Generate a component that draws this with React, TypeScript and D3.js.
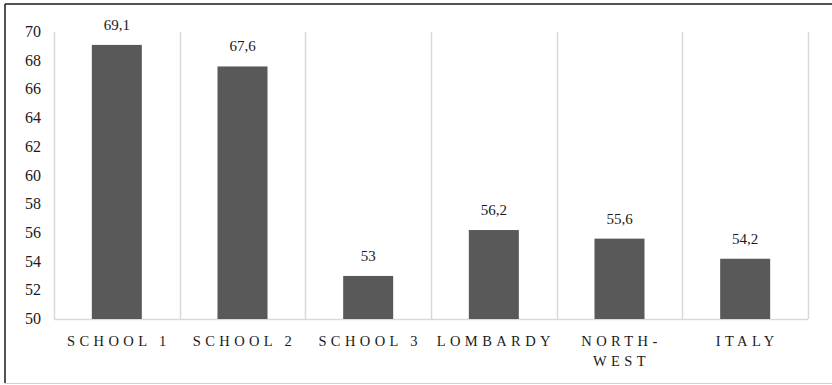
import React, { useEffect, useRef } from 'react';
import * as d3 from 'd3';

// Chart data
const categories = ['SCHOOL 1', 'SCHOOL 2', 'SCHOOL 3', 'LOMBARDY', 'NORTH-WEST', 'ITALY'];
const values = [69.1, 67.6, 53, 56.2, 55.6, 54.2];
const yTicks = [50, 52, 54, 56, 58, 60, 62, 64, 66, 68, 70];

const WIDTH = 832;
const HEIGHT = 385;
const FONT = "'Liberation Serif', 'Times New Roman', Tinos, 'DejaVu Serif', serif";

// comma as decimal separator
const itLocale = d3.formatLocale({ decimal: ',', thousands: '.', grouping: [3], currency: ['€', ''] });
const fmt = itLocale.format('~f');

// break "NORTH-WEST" after the hyphen
const splitLabel = (s: string) => (s.includes('-') ? [s.slice(0, s.indexOf('-') + 1), s.slice(s.indexOf('-') + 1)] : [s]);

const App: React.FC = () => {
  const ref = useRef<SVGSVGElement>(null);

  useEffect(() => {
    if (!ref.current) return;
    const svg = d3.select(ref.current);
    svg.selectAll('*').remove();

    const margin = { top: 32, right: 24, bottom: 66, left: 54 };
    const innerW = WIDTH - margin.left - margin.right;
    const innerH = HEIGHT - margin.top - margin.bottom;

    // Frame (left + top dark, bottom light)
    svg.append('line').attr('x1', 5).attr('y1', 4).attr('x2', WIDTH).attr('y2', 4)
      .attr('stroke', '#1a1a1a').attr('stroke-width', 1.5);
    svg.append('line').attr('x1', 5).attr('y1', 4).attr('x2', 5).attr('y2', 383)
      .attr('stroke', '#1a1a1a').attr('stroke-width', 1.5);
    svg.append('line').attr('x1', 5).attr('y1', 383.5).attr('x2', WIDTH).attr('y2', 383.5)
      .attr('stroke', '#d0d0d0').attr('stroke-width', 1);

    const g = svg.append('g').attr('transform', `translate(${margin.left},${margin.top})`);

    const x = d3.scaleBand().domain(categories).range([0, innerW]).paddingInner(0).paddingOuter(0);
    const y = d3.scaleLinear().domain([50, 70]).range([innerH, 0]);

    // Vertical gridlines between categories
    const bounds = categories.map((c) => x(c) || 0).concat([innerW]);
    g.selectAll('.vgrid')
      .data(bounds)
      .join('line')
      .attr('class', 'vgrid')
      .attr('x1', (d) => Math.round(d) + 0.5)
      .attr('x2', (d) => Math.round(d) + 0.5)
      .attr('y1', 0)
      .attr('y2', innerH)
      .attr('stroke', '#d9d9d9')
      .attr('stroke-width', 1.5);

    // Bottom axis line
    g.append('line')
      .attr('x1', 0).attr('x2', innerW)
      .attr('y1', innerH + 0.5).attr('y2', innerH + 0.5)
      .attr('stroke', '#d9d9d9').attr('stroke-width', 1.5);

    // Bars
    const barW = 50;
    g.selectAll('.bar')
      .data(values)
      .join('rect')
      .attr('class', 'bar')
      .attr('x', (_, i) => (x(categories[i]) || 0) + x.bandwidth() / 2 - barW / 2)
      .attr('y', (d) => y(d))
      .attr('width', barW)
      .attr('height', (d) => innerH - y(d))
      .attr('fill', '#595959');

    // Value labels
    g.selectAll('.val')
      .data(values)
      .join('text')
      .attr('class', 'val')
      .attr('x', (_, i) => (x(categories[i]) || 0) + x.bandwidth() / 2)
      .attr('y', (d) => y(d) - 15)
      .attr('text-anchor', 'middle')
      .attr('font-family', FONT)
      .attr('font-size', 15)
      .attr('fill', '#1a1a1a')
      .text((d) => fmt(d));

    // Y tick labels
    g.selectAll('.ytick')
      .data(yTicks)
      .join('text')
      .attr('class', 'ytick')
      .attr('x', -13)
      .attr('y', (d) => y(d) + 5)
      .attr('text-anchor', 'end')
      .attr('font-family', FONT)
      .attr('font-size', 16)
      .attr('fill', '#1a1a1a')
      .text((d) => d);

    // X category labels
    const xl = g.selectAll('.xlab')
      .data(categories)
      .join('text')
      .attr('class', 'xlab')
      .attr('text-anchor', 'middle')
      .attr('font-family', FONT)
      .attr('font-size', 14.5)
      .attr('letter-spacing', 4.4)
      .attr('fill', '#1a1a1a');

    xl.each(function (c) {
      const cx = (x(c) || 0) + x.bandwidth() / 2 + 2;
      splitLabel(c).forEach((line, j) => {
        d3.select(this)
          .append('tspan')
          .attr('x', cx)
          .attr('y', innerH + 27 + j * 20)
          .text(line);
      });
    });
  }, []);

  return (
    <svg
      ref={ref}
      width={WIDTH}
      height={HEIGHT}
      style={{ position: 'fixed', left: 0, top: 0, background: '#fff' }}
    />
  );
};

export default App;
